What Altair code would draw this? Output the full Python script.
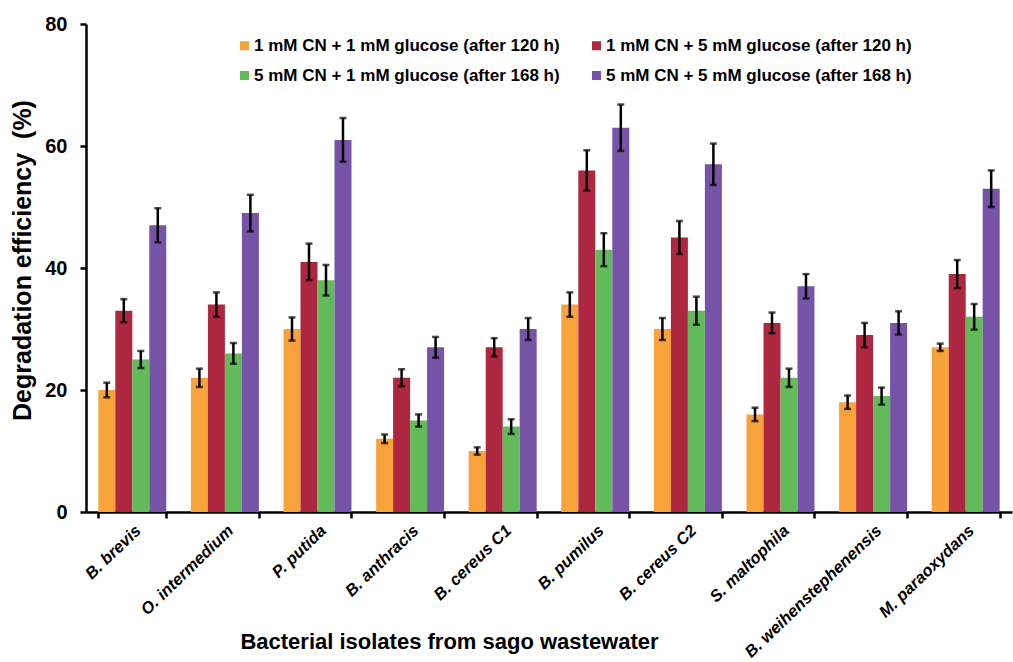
import altair as alt
import pandas as pd

isolates = ["B. brevis", "O. intermedium", "P. putida", "B. anthracis", "B. cereus C1",
            "B. pumilus", "B. cereus C2", "S. maltophila", "B. weihenstephenensis", "M. paraoxydans"]
series = ["1 mM CN + 1 mM glucose (after 120 h)", "1 mM CN + 5 mM glucose (after 120 h)",
          "5 mM CN + 1 mM glucose (after 168 h)", "5 mM CN + 5 mM glucose (after 168 h)"]
colors = ["#F7A23A", "#AE2740", "#62BA5B", "#7653A6"]

s1 = [20, 22, 30, 12, 10, 34, 30, 16, 18, 27]
e1 = [1.2, 1.5, 1.9, 0.7, 0.6, 2.0, 1.8, 1.1, 1.1, 0.6]
s2 = [33, 34, 41, 22, 27, 56, 45, 31, 29, 39]
e2 = [1.9, 2.0, 3.0, 1.4, 1.5, 3.3, 2.7, 1.7, 2.0, 2.3]
s3 = [25, 26, 38, 15, 14, 43, 33, 22, 19, 32]
e3 = [1.4, 1.7, 2.5, 1.0, 1.2, 2.7, 2.3, 1.5, 1.4, 2.1]
s4 = [47, 49, 61, 27, 30, 63, 57, 37, 31, 53]
e4 = [2.8, 3.0, 3.6, 1.7, 1.8, 3.8, 3.4, 2.0, 1.9, 3.0]

rows = []
for i, name in enumerate(isolates):
    for sname, vals, errs in zip(series, [s1, s2, s3, s4], [e1, e2, e3, e4]):
        rows.append({"isolate": name, "series": sname, "value": vals[i],
                     "lo": vals[i] - errs[i], "hi": vals[i] + errs[i]})
df = pd.DataFrame(rows)

FONT = "Liberation Sans, Arial, sans-serif"

x = alt.X("isolate:N", sort=isolates,
          scale=alt.Scale(paddingInner=0.266, paddingOuter=0.133),
          axis=alt.Axis(title="Bacterial isolates from sago wastewater",
                        labelAngle=-44, labelFont=FONT, labelFontStyle="italic",
                        labelFontWeight="bold", labelFontSize=16.5, labelColor="black",
                        labelPadding=4, labelLimit=400, tickBand="extent", tickSize=6,
                        tickWidth=2.5, tickColor="black", domainColor="black", domainWidth=2.5,
                        titleFont=FONT, titleFontSize=22, titleFontWeight="bold",
                        titleColor="black", titleX=363, titleY=136,
                        titleBaseline="alphabetic", titleAlign="center"))
xoff = alt.XOffset("series:N", sort=series)
y_axis = alt.Axis(title="Degradation efficiency\u00a0\u00a0(%)", values=[0, 20, 40, 60, 80], grid=False,
                  tickSize=6, tickWidth=2.5, tickColor="black", domainColor="black",
                  domainWidth=2.5, labelFont=FONT, labelFontSize=20, labelFontWeight="bold",
                  labelColor="black", labelPadding=13, titleFont=FONT, titleFontSize=25,
                  titleFontWeight="bold", titleColor="black", titleX=-56, titleY=236,
                  titleBaseline="alphabetic", titleAlign="center", titleAngle=-90)
y = alt.Y("value:Q", scale=alt.Scale(domain=[0, 80], nice=False), axis=y_axis)

bars = alt.Chart(df).mark_bar().encode(
    x=x, xOffset=xoff, y=y,
    color=alt.Color("series:N", sort=series,
                    scale=alt.Scale(domain=series, range=colors),
                    legend=alt.Legend(orient="none", legendX=150, legendY=13, columns=2,
                                      direction="horizontal",
                                      title=None, symbolType="square", symbolSize=81,
                                      symbolStrokeWidth=0, labelFont=FONT, labelFontSize=17,
                                      labelFontWeight="bold", labelColor="black",
                                      columnPadding=28, rowPadding=12, labelOffset=1,
                                      padding=0, labelLimit=400))
)

rules = alt.Chart(df).mark_rule(color="black", strokeWidth=2.5).encode(
    x=alt.X("isolate:N", sort=isolates), xOffset=xoff,
    y=alt.Y("lo:Q"), y2="hi:Q")
cap_lo = alt.Chart(df).mark_tick(color="black", size=7, thickness=2.5).encode(
    x=alt.X("isolate:N", sort=isolates), xOffset=xoff, y=alt.Y("lo:Q"))
cap_hi = alt.Chart(df).mark_tick(color="black", size=7, thickness=2.5).encode(
    x=alt.X("isolate:N", sort=isolates), xOffset=xoff, y=alt.Y("hi:Q"))

chart = alt.layer(bars, rules, cap_lo, cap_hi).properties(
    width=926, height=488,
    autosize=alt.AutoSizeParams(type="none"),
    padding={"left": 86, "top": 24, "right": 1, "bottom": 150},
    background="white",
).configure_view(stroke=None)

chart.save("out.html", embed_options={"renderer": "svg", "actions": False})
